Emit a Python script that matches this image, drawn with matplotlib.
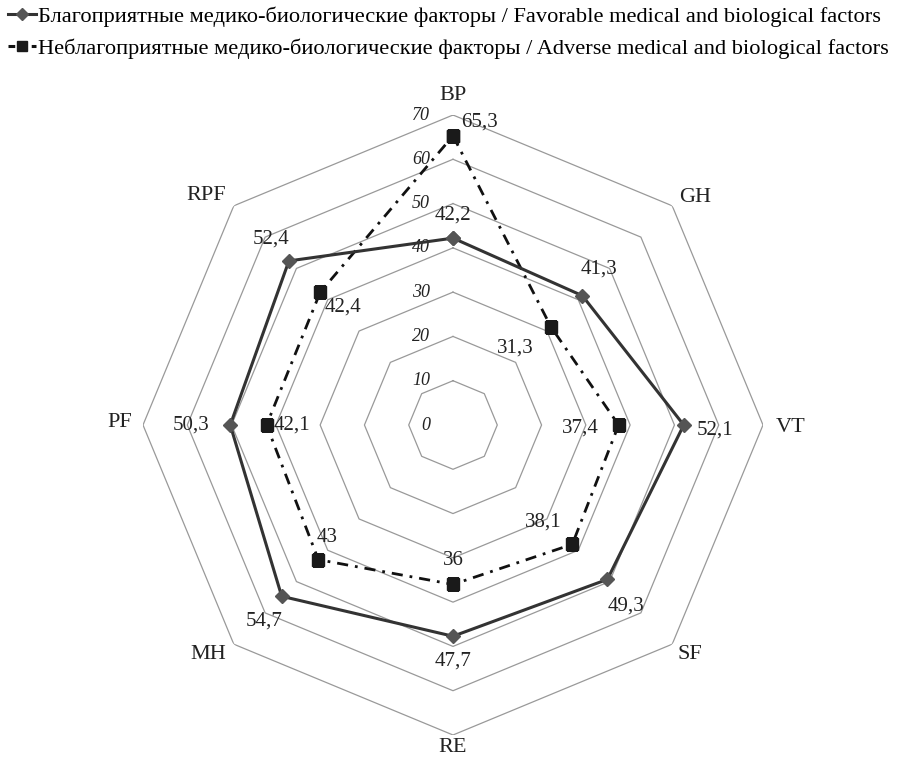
import numpy as np
import matplotlib
matplotlib.use("Agg")
import matplotlib.pyplot as plt
from matplotlib.lines import Line2D
from matplotlib.transforms import ScaledTranslation

plt.rcParams['font.family'] = ['Liberation Serif', 'DejaVu Serif']

categories = ["BP", "GH", "VT", "SF", "RE", "MH", "PF", "RPF"]
favorable = [42.2, 41.3, 52.1, 49.3, 47.7, 54.7, 50.3, 52.4]
adverse = [65.3, 31.3, 37.4, 38.1, 36.0, 43.0, 42.1, 42.4]
fav_labels = ["42,2", "41,3", "52,1", "49,3", "47,7", "54,7", "50,3", "52,4"]
adv_labels = ["65,3", "31,3", "37,4", "38,1", "36", "43", "42,1", "42,4"]
ticks = [0, 10, 20, 30, 40, 50, 60, 70]
legend_labels = [
    "Благоприятные медико-биологические факторы / Favorable medical and biological factors",
    "Неблагоприятные медико-биологические факторы / Adverse medical and biological factors",
]

W, H = 901, 768
fig = plt.figure(figsize=(W / 100, H / 100), dpi=100)
cx, cy, R = 453, 425, 310
ax = fig.add_axes([(cx - R) / W, (H - cy - R) / H, 2 * R / W, 2 * R / H], projection='polar')
ax.set_theta_offset(np.pi / 2)
ax.set_theta_direction(-1)
ax.set_ylim(0, 70)
ax.grid(False)
ax.set_xticks([])
ax.set_yticks([])
ax.spines['polar'].set_visible(False)
ax.patch.set_visible(False)

n = len(categories)
theta = np.arange(n) * 2 * np.pi / n
theta_c = np.append(theta, theta[0])

# octagon grid
for t in ticks[1:]:
    ax.plot(theta_c, [t] * (n + 1), color='#999999', lw=0.9, zorder=1)

# tick labels
off = ScaledTranslation(-23 / 100, 0, fig.dpi_scale_trans)
for t in ticks:
    ax.text(0, t, str(t), ha='right', va='center', fontsize=13, style='italic',
            color='#222222', transform=ax.transData + off, zorder=2)

fav_c = np.append(favorable, favorable[0])
adv_c = np.append(adverse, adverse[0])
ax.plot(theta_c, fav_c, color='#333333', lw=2.2, marker='D', markersize=7,
        markerfacecolor='#555555', markeredgecolor='#555555', zorder=4)
ax.plot(theta_c, adv_c, color='#111111', lw=2.0, linestyle=(0, (4, 2.5, 1, 2.5)),
        marker='s', markersize=9, markerfacecolor='#1a1a1a', markeredgecolor='#1a1a1a', zorder=3)

fav_off = [(0, 23), (17, 27), (31, -5), (19, -27), (0, -25), (-18, -25), (-39, 0), (-18, 22)]
adv_off = [(27, 14), (-36, -21), (-38, -3), (-29, 22), (0, 24), (9, 22), (25, 0), (23, -15)]
for i in range(n):
    ax.annotate(fav_labels[i], (theta[i], favorable[i]), xytext=fav_off[i],
                textcoords='offset pixels', ha='center', va='center', fontsize=15,
                color='#222222', zorder=5, annotation_clip=False)
    ax.annotate(adv_labels[i], (theta[i], adverse[i]), xytext=adv_off[i],
                textcoords='offset pixels', ha='center', va='center', fontsize=15,
                color='#222222', zorder=5, annotation_clip=False)

cat_off = [(0, 20), (23, 8), (28, -2), (18, -10), (0, -13), (-26, -10), (-23, 3), (-28, 10)]
for i in range(n):
    ax.annotate(categories[i], (theta[i], 70), xytext=cat_off[i],
                textcoords='offset pixels', ha='center', va='center', fontsize=16,
                color='#222222', annotation_clip=False)

handles = [
    Line2D([], [], color='#333333', lw=2.2, marker='D', markersize=6,
           markerfacecolor='#555555', markeredgecolor='#555555'),
    Line2D([], [], color='#111111', lw=2.2, linestyle=(0, (2.2, 1.6)), marker='s', markersize=7,
           markerfacecolor='#1a1a1a', markeredgecolor='#1a1a1a'),
]
fig.legend(handles, legend_labels, loc='upper left', bbox_to_anchor=(6 / W, 1 - 4 / H),
           frameon=False, fontsize=16.1, handlelength=1.25, handletextpad=0.1,
           labelspacing=0.5, borderaxespad=0, borderpad=0.1)

fig.savefig('out.png', dpi=100)
